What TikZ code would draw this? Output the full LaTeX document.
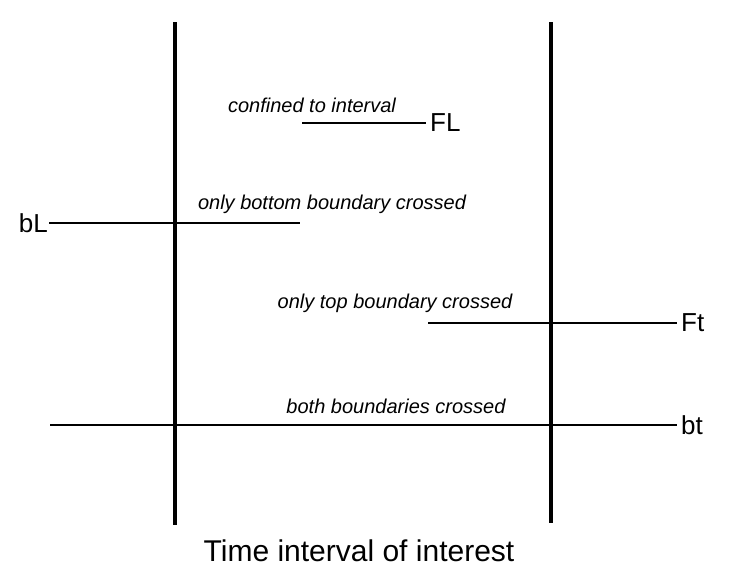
\documentclass[tikz,border=0pt]{standalone}
\usepackage{fontspec}
\setmainfont{Liberation Sans}
\usepackage{tikz}

\begin{document}
\begin{tikzpicture}[x=1pt, y=-1pt, boundary/.style={line width=3.6pt}, track/.style={line width=1.8pt}, tag/.style={font=\fontsize{26}{30}\selectfont, inner sep=4pt}, note/.style={font=\itshape\fontsize{20}{23}\selectfont, inner sep=0pt}]
       \useasboundingbox (0,0) rectangle (731,582);
       % interval boundaries
       \coordinate (lt) at (175,22);
       \coordinate (lb) at (175,525);
       \coordinate (rt) at (551,22);
       \coordinate (rb) at (551,523);
       \draw[boundary] (lt) -- (lb);
       \draw[boundary] (rt) -- (rb);
       
       % end labels
       \node[tag, anchor=west] (FL) at (426,123) {FL};
       \node[tag, anchor=east, inner sep=1pt] (bL) at (49,223) {bL};
       \node[tag, anchor=west] (Ft) at (677,323) {Ft};
       \node[tag, anchor=west] (bt) at (677,425) {bt};
       
       % free ends
       \coordinate (FLs) at (302,123);
       \coordinate (bLs) at (300,223);
       \coordinate (Fts) at (428,323);
       \coordinate (bts) at (50,425);
       \foreach \p/\q in {FLs/FL.west, bL.east/bLs, Fts/Ft.west, bts/bt.west}{ \draw[track] (\p) -- (\q); }
       
       % notes
       \node[note] (confined) at (312,105) {confined to interval};
       \node[note] (bottom) at (332,204) {only bottom boundary crossed};
       \node[note] (top) at (395,303) {only top boundary crossed};
       \node[note] (both) at (396,406) {both boundaries crossed};
       \node[font=\fontsize{30}{34}\selectfont] (caption) at (359,551) {Time interval of interest};
     \end{tikzpicture}
\end{document}
